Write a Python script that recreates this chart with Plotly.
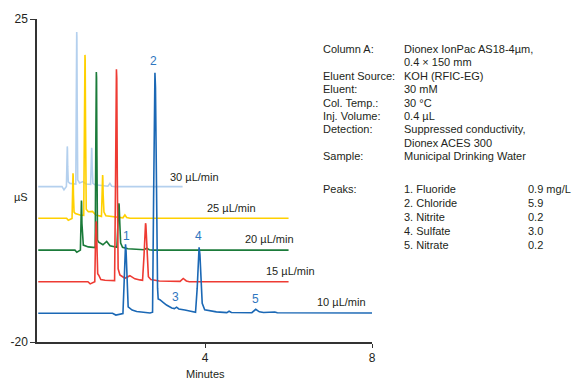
import plotly.graph_objects as go

# ---- data (minutes, µS) ----
flow_labels = ["30 µL/min", "25 µL/min", "20 µL/min", "15 µL/min", "10 µL/min"]
colors = ["#b4d0ee", "#ffd000", "#1b7b3a", "#ee3b33", "#1b68b5"]

lightblue_pts = [(0, 1.65), (0.57, 1.65), (0.617, 1.2), (0.655, 1.6), (0.675, 1.65), (0.686, 4.5),
                 (0.692, 6.9), (0.696, 7.25), (0.700, 6.9), (0.706, 4.5), (0.72, 2.3), (0.76, 2.1),
                 (0.9, 2.0), (0.912, 14.0), (0.918, 22.5), (0.922, 23.2), (0.926, 22.5), (0.932, 14.0),
                 (0.946, 2.6), (0.99, 2.15), (1.07, 2.35), (1.15, 2.0), (1.255, 1.95), (1.268, 4.5),
                 (1.276, 6.8), (1.28, 7.07), (1.284, 6.8), (1.292, 4.5), (1.31, 2.1), (1.36, 1.9),
                 (1.67, 1.7), (1.718, 2.1), (1.76, 1.7), (1.85, 1.65), (3.46, 1.65)]
yellow_pts = [(0, -2.75), (0.68, -2.75), (0.72, -3.05), (0.77, -2.85), (0.81, -2.8), (0.822, 0.5),
              (0.829, 3.2), (0.833, 3.5), (0.837, 3.2), (0.844, 0.5), (0.858, -1.9), (0.89, -2.1),
              (1.0, -2.3), (1.09, -2.35), (1.106, 10.0), (1.115, 19.3), (1.12, 20.0), (1.125, 19.3),
              (1.134, 10.0), (1.15, -1.5), (1.20, -1.85), (1.30, -1.8), (1.38, -2.3), (1.515, -2.5),
              (1.53, 0.5), (1.539, 3.0), (1.543, 3.27), (1.547, 3.0), (1.556, 0.5), (1.575, -1.9),
              (1.62, -2.4), (2.03, -2.7), (2.077, -2.3), (2.12, -2.65), (2.2, -2.75), (6.0, -2.75)]
green_pts = [(0, -7.2), (0.88, -7.2), (0.925, -7.5), (0.97, -7.3), (1.01, -7.2), (1.024, -3.5),
             (1.031, -0.6), (1.035, -0.3), (1.039, -0.6), (1.047, -3.5), (1.065, -6.2), (1.08, -6.5),
             (1.2, -6.75), (1.365, -6.85), (1.378, 6.0), (1.386, 16.8), (1.392, 17.6), (1.398, 16.8),
             (1.406, 6.0), (1.42, -5.8), (1.45, -6.1), (1.55, -6.45), (1.64, -6.0), (1.72, -6.6),
             (1.885, -6.8), (1.91, -3.5), (1.927, -0.9), (1.933, -0.68), (1.939, -0.9), (1.955, -3.5),
             (1.975, -6.2), (2.02, -6.8), (2.15, -7.0), (2.54, -7.15), (2.60, -6.92), (2.66, -7.15),
             (2.75, -7.2), (6.0, -7.2)]
red_pts = [(0, -11.6), (1.19, -11.6), (1.245, -11.9), (1.30, -11.7), (1.355, -11.6), (1.372, -6.0),
           (1.381, -3.6), (1.388, -3.2), (1.395, -3.6), (1.404, -6.0), (1.425, -10.5), (1.45, -10.7),
           (1.50, -11.3), (1.60, -11.4), (1.83, -11.45), (1.853, 3.0), (1.866, 16.8), (1.874, 18.0),
           (1.882, 16.8), (1.895, 3.0), (1.915, -9.8), (1.957, -10.66), (2.077, -11.12),
           (2.196, -10.76), (2.316, -11.2), (2.436, -11.35), (2.50, -11.4), (2.535, -8.0),
           (2.553, -4.6), (2.564, -3.7), (2.572, -3.46), (2.58, -3.7), (2.593, -5.0), (2.615, -9.0),
           (2.64, -10.9), (2.70, -11.3), (2.9, -11.5), (3.40, -11.55), (3.475, -11.15), (3.55, -11.5),
           (3.62, -11.6), (6.0, -11.6)]
blue_pts = [(0, -16.0), (1.78, -16.0), (1.86, -16.25), (1.95, -16.1), (2.03, -16.05), (2.06, -11.5),
            (2.08, -7.3), (2.092, -6.4), (2.105, -7.3), (2.125, -11.5), (2.155, -15.1), (2.25, -15.55),
            (2.36, -15.75), (2.68, -15.95), (2.74, -15.85), (2.765, 0.0), (2.785, 15.5), (2.797, 17.5),
            (2.81, 15.5), (2.83, 0.0), (2.86, -12.5), (2.875, -14.0), (2.915, -14.1), (3.0, -14.5),
            (3.075, -14.85), (3.2, -15.25), (3.265, -15.35), (3.315, -15.15), (3.37, -15.4),
            (3.514, -15.55), (3.705, -15.8), (3.77, -15.85), (3.81, -12.5), (3.835, -7.8),
            (3.855, -6.8), (3.875, -7.8), (3.905, -12.5), (3.93, -14.6), (3.99, -15.5), (4.27, -15.8),
            (4.52, -15.9), (4.574, -15.72), (4.63, -15.9), (5.12, -15.92), (5.213, -15.45),
            (5.30, -15.8), (5.40, -15.9), (5.62, -15.92), (5.67, -15.82), (5.73, -15.93), (8.0, -15.95)]
traces = [lightblue_pts, yellow_pts, green_pts, red_pts, blue_pts]

peak_numbers = ["1", "2", "3", "4", "5"]
peak_num_t = [2.112, 2.758, 3.298, 3.848, 5.213]
peak_num_v = [-5.3, 19.2, -13.7, -5.3, -14.0]

flow_label_t = [3.113, 4.0, 4.909, 5.412, 6.625]
flow_label_v = [3.0, -1.3, -5.7, -10.1, -14.4]

info_labels = ["Column A:", "", "Eluent Source:", "Eluent:", "Col. Temp.:", "Inj. Volume:",
               "Detection:", "", "Sample:"]
info_values = ["Dionex IonPac AS18-4µm,", "0.4 × 150 mm", "KOH (RFIC-EG)", "30 mM", "30 °C",
               "0.4 µL", "Suppressed conductivity,", "Dionex ACES 300", "Municipal Drinking Water"]
peak_names = ["1. Fluoride", "2. Chloride", "3. Nitrite", "4. Sulfate", "5. Nitrate"]
peak_amounts = ["0.9 mg/L", "5.9", "0.2", "3.0", "0.2"]

# ---- figure ----
FONT = "Liberation Sans, Arial, sans-serif"
TXT = "#231f20"
W, H = 576, 379
ML, MR, MT, MB = 37, 204, 19, 37
PW, PH = W - ML - MR, H - MT - MB

def px(x):
    return (x - ML) / PW

def py(y):
    return (H - MB - y) / PH

fig = go.Figure()
for pts, col in zip(traces, colors):
    fig.add_trace(go.Scatter(x=[p[0] for p in pts], y=[p[1] for p in pts], mode="lines",
                             line=dict(color=col, width=1.6), hoverinfo="skip", showlegend=False))

ann = []
for n, t, v in zip(peak_numbers, peak_num_t, peak_num_v):
    ann.append(dict(x=t, y=v, xref="x", yref="y", text=n, showarrow=False,
                    font=dict(family=FONT, size=12, color="#2f76c0"), xanchor="center", yanchor="middle"))
for lab, t, v in zip(flow_labels, flow_label_t, flow_label_v):
    ann.append(dict(x=t, y=v, xref="x", yref="y", text=lab, showarrow=False,
                    font=dict(family=FONT, size=11, color=TXT), xanchor="left", yanchor="middle"))

for i, (lab, val) in enumerate(zip(info_labels, info_values)):
    yy = 49 + 13.4 * i
    if lab:
        ann.append(dict(x=px(321), y=py(yy), xref="paper", yref="paper", text=lab, showarrow=False,
                        font=dict(family=FONT, size=11, color=TXT), xanchor="left", yanchor="middle"))
    ann.append(dict(x=px(402), y=py(yy), xref="paper", yref="paper", text=val, showarrow=False,
                    font=dict(family=FONT, size=11, color=TXT), xanchor="left", yanchor="middle"))

ann.append(dict(x=px(321), y=py(189), xref="paper", yref="paper", text="Peaks:", showarrow=False,
                font=dict(family=FONT, size=11, color=TXT), xanchor="left", yanchor="middle"))
for i, (nm, am) in enumerate(zip(peak_names, peak_amounts)):
    yy = 189 + 14 * i
    ann.append(dict(x=px(402), y=py(yy), xref="paper", yref="paper", text=nm, showarrow=False,
                    font=dict(family=FONT, size=11, color=TXT), xanchor="left", yanchor="middle"))
    ann.append(dict(x=px(526), y=py(yy), xref="paper", yref="paper", text=am, showarrow=False,
                    font=dict(family=FONT, size=11, color=TXT), xanchor="left", yanchor="middle"))

ann.append(dict(x=px(205), y=py(373.5), xref="paper", yref="paper", text="Minutes", showarrow=False,
                font=dict(family=FONT, size=11, color=TXT), xanchor="center", yanchor="middle"))
ann.append(dict(x=px(20.5), y=py(196.5), xref="paper", yref="paper", text="µS", showarrow=False,
                font=dict(family=FONT, size=11, color=TXT), xanchor="center", yanchor="middle"))

fig.update_layout(
    width=W, height=H, margin=dict(l=ML, r=MR, t=MT, b=MB, pad=0),
    paper_bgcolor="white", plot_bgcolor="white", showlegend=False,
    annotations=ann,
    xaxis=dict(range=[-0.03, 8], showgrid=False, zeroline=False, showline=True, linecolor="#333333",
               linewidth=1.5, ticks="outside", tickvals=[4, 8], ticktext=["4", "8"], ticklen=4,
               tickwidth=1, tickcolor="#333333", tickfont=dict(family=FONT, size=12, color=TXT),
               fixedrange=True),
    yaxis=dict(range=[-20, 25], showgrid=False, zeroline=False, showline=True, linecolor="#333333",
               linewidth=1.5, ticks="outside", tickvals=[25, -20], ticktext=["25", "-20"], ticklen=5,
               tickwidth=1, tickcolor="#333333", tickfont=dict(family=FONT, size=12, color=TXT),
               fixedrange=True),
)

fig.write_html("out.html")
